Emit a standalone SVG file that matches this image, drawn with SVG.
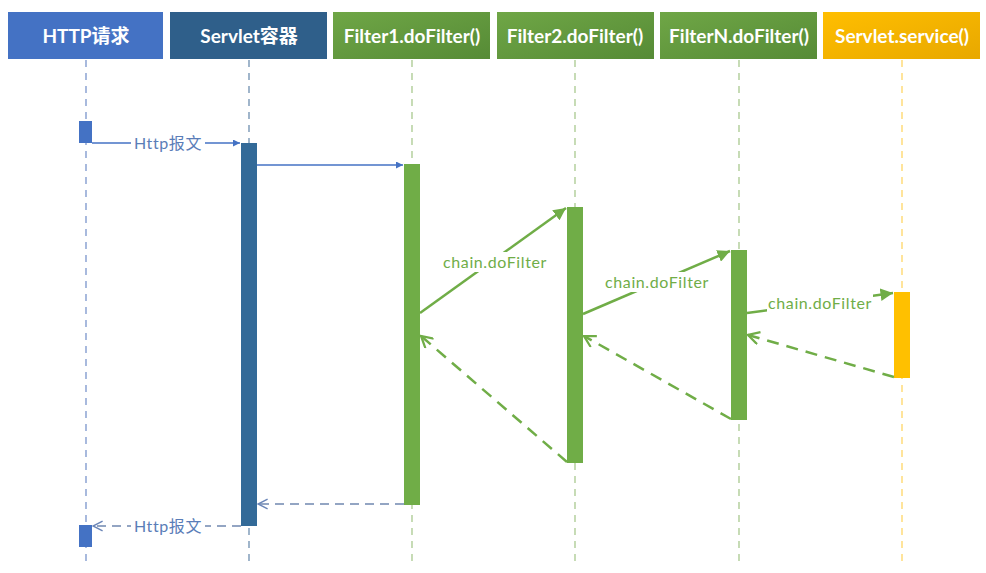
<svg xmlns="http://www.w3.org/2000/svg" width="986" height="573" viewBox="0 0 986 573">
<style>
.hdr{font-family:Lato,"Noto Sans","Noto Sans CJK SC",sans-serif;font-weight:bold;font-size:19px;fill:#fff;text-anchor:middle}
.lbl{font-family:Lato,"Noto Sans","Noto Sans CJK SC",sans-serif;font-size:16px;text-anchor:middle;letter-spacing:0.6px}
.life{stroke-width:1.3;stroke-dasharray:7,6;fill:none}
.g{stroke:#70AD47}
.sol{stroke-width:2.5;fill:none}
.ret{stroke-width:2.5;stroke-dasharray:12,8;fill:none}
</style>
<defs>
<linearGradient id="gGreen" x1="0" y1="0" x2="1" y2="1"><stop offset="0" stop-color="#6FA646"/><stop offset="1" stop-color="#568B36"/></linearGradient>
<linearGradient id="gOrange" x1="0" y1="0" x2="1" y2="1"><stop offset="0" stop-color="#FFBE00"/><stop offset="1" stop-color="#E8A800"/></linearGradient>
<marker id="aBlue" viewBox="0 0 10 10" refX="10" refY="5" markerWidth="7" markerHeight="7" orient="auto" markerUnits="userSpaceOnUse"><path d="M0,0 L10,5 L0,10 z" fill="#4472C4"/></marker>
<marker id="aGreen" viewBox="0 0 10 10" refX="10" refY="5" markerWidth="5" markerHeight="5" orient="auto"><path d="M0,0 L10,5 L0,10 z" fill="#70AD47"/></marker>
<marker id="oGreen" viewBox="0 0 10 10" refX="9" refY="5" markerWidth="14" markerHeight="14" orient="auto" markerUnits="userSpaceOnUse"><path d="M1,0.5 L9,5 L1,9.5" fill="none" stroke="#70AD47" stroke-width="1.6"/></marker>
<marker id="oBlue" viewBox="0 0 10 10" refX="9" refY="5" markerWidth="12" markerHeight="12" orient="auto" markerUnits="userSpaceOnUse"><path d="M1,1 L9,5 L1,9" fill="none" stroke="#6B86B8" stroke-width="1.2"/></marker>
</defs>
<rect width="986" height="573" fill="#fff"/>
<g id="lifelines">
<line class="life" x1="86" y1="60" x2="86" y2="562" stroke="#7A95CC"/>
<line class="life" x1="249" y1="60" x2="249" y2="562" stroke="#6F8FB0"/>
<line class="life" x1="412" y1="60" x2="412" y2="562" stroke="#A9C98F"/>
<line class="life" x1="575" y1="60" x2="575" y2="562" stroke="#A9C98F"/>
<line class="life" x1="739" y1="60" x2="739" y2="562" stroke="#A9C98F"/>
<line class="life" x1="902" y1="60" x2="902" y2="562" stroke="#FFD666"/>
</g>
<g id="n-http">
<rect x="8" y="12" width="155" height="47" fill="#4472C4"/>
<text class="hdr" x="86" y="43">HTTP请求</text>
<rect x="79" y="121" width="13" height="22" fill="#4472C4"/>
<rect x="79" y="525" width="13" height="22" fill="#4472C4"/>
</g>
<g id="n-servlet">
<rect x="170" y="12" width="157" height="47" fill="#2F5F8A"/>
<text class="hdr" x="249" y="43">Servlet容器</text>
<rect x="241" y="143" width="16" height="383" fill="#336A98"/>
</g>
<g id="n-filter1">
<rect x="333" y="12" width="157" height="47" fill="url(#gGreen)"/>
<text class="hdr" x="412" y="43">Filter1.doFilter()</text>
<rect x="404" y="164" width="16" height="341" fill="#70AD47"/>
</g>
<g id="n-filter2">
<rect x="497" y="12" width="157" height="47" fill="url(#gGreen)"/>
<text class="hdr" x="575" y="43">Filter2.doFilter()</text>
<rect x="567" y="207" width="16" height="256" fill="#70AD47"/>
</g>
<g id="n-filterN">
<rect x="660" y="12" width="157" height="47" fill="url(#gGreen)"/>
<text class="hdr" x="739" y="43">FilterN.doFilter()</text>
<rect x="731" y="250" width="16" height="170" fill="#70AD47"/>
</g>
<g id="n-service">
<rect x="823" y="12" width="157" height="47" fill="url(#gOrange)"/>
<text class="hdr" x="902" y="43">Servlet.service()</text>
<rect x="894" y="292" width="16" height="86" fill="#FFC000"/>
</g>
<g id="connectors">
<line x1="92" y1="143" x2="240" y2="143" stroke="#4472C4" stroke-width="1.3" marker-end="url(#aBlue)"/>
<rect x="131" y="133" width="74" height="20" fill="#fff"/>
<text class="lbl" x="168" y="149" fill="#5A7DB8">Http报文</text>
<line x1="257" y1="165" x2="403" y2="165" stroke="#4472C4" stroke-width="1.3" marker-end="url(#aBlue)"/>
<line class="g sol" x1="420" y1="313" x2="566" y2="208" marker-end="url(#aGreen)"/>
<rect x="440" y="252" width="110" height="20" fill="#fff"/>
<text class="lbl" x="495" y="268" fill="#70AD47">chain.doFilter</text>
<line class="g sol" x1="583" y1="314" x2="730" y2="251" marker-end="url(#aGreen)"/>
<rect x="602" y="272" width="110" height="20" fill="#fff"/>
<text class="lbl" x="657" y="288" fill="#70AD47">chain.doFilter</text>
<line class="g sol" x1="747" y1="313" x2="893" y2="293" marker-end="url(#aGreen)"/>
<rect x="767" y="293" width="106" height="20" fill="#fff"/>
<text class="lbl" x="820" y="309" fill="#70AD47">chain.doFilter</text>
<line class="g ret" x1="894" y1="377" x2="748" y2="335" marker-end="url(#oGreen)"/>
<line class="g ret" x1="731" y1="419" x2="584" y2="336" marker-end="url(#oGreen)"/>
<line class="g ret" x1="567" y1="462" x2="421" y2="336" marker-end="url(#oGreen)"/>
<line x1="404" y1="504" x2="258" y2="504" stroke="#7088B0" stroke-width="1.5" stroke-dasharray="9,6" marker-end="url(#oBlue)"/>
<line x1="241" y1="526" x2="93" y2="526" stroke="#7088B0" stroke-width="1.5" stroke-dasharray="9,6" marker-end="url(#oBlue)"/>
<rect x="131" y="516" width="74" height="20" fill="#fff"/>
<text class="lbl" x="168" y="532" fill="#5A7DB8">Http报文</text>
</g>
</svg>
